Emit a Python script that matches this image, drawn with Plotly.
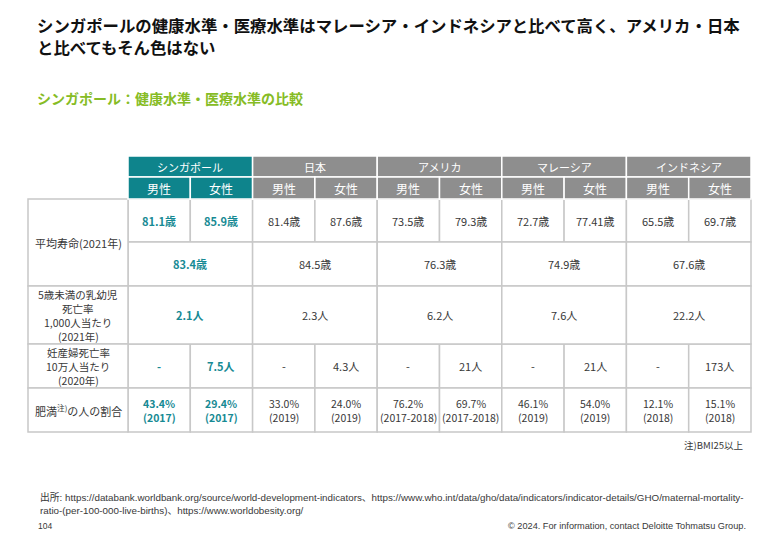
import plotly.graph_objects as go

# ---------------- data ----------------
countries = ["シンガポール", "日本", "アメリカ", "マレーシア", "インドネシア"]
genders = ["男性", "女性"]
row_labels = [
    ["平均寿命(2021年)"],
    ["5歳未満の乳幼児", "死亡率", "1,000人当たり", "(2021年)"],
    ["妊産婦死亡率", "10万人当たり", "(2020年)"],
    ["肥満<sup>注)</sup>の人の割合"],
]
life_male = ["81.1歳", "81.4歳", "73.5歳", "72.7歳", "65.5歳"]
life_female = ["85.9歳", "87.6歳", "79.3歳", "77.41歳", "69.7歳"]
life_total = ["83.4歳", "84.5歳", "76.3歳", "74.9歳", "67.6歳"]
infant_mortality = ["2.1人", "2.3人", "6.2人", "7.6人", "22.2人"]
maternal_male = ["-", "-", "-", "-", "-"]
maternal_female = ["7.5人", "4.3人", "21人", "21人", "173人"]
obesity_male = ["43.4%", "33.0%", "76.2%", "46.1%", "12.1%"]
obesity_male_year = ["(2017)", "(2019)", "(2017-2018)", "(2019)", "(2018)"]
obesity_female = ["29.4%", "24.0%", "69.7%", "54.0%", "15.1%"]
obesity_female_year = ["(2017)", "(2019)", "(2017-2018)", "(2019)", "(2018)"]

title_lines = [
    "シンガポールの健康水準・医療水準はマレーシア・インドネシアと比べて高く、アメリカ・日本",
    "と比べてもそん色はない",
]
subtitle = "シンガポール：健康水準・医療水準の比較"
note = "注)BMI25以上"
source_lines = [
    "出所: https://databank.worldbank.org/source/world-development-indicators、https://www.who.int/data/gho/data/indicators/indicator-details/GHO/maternal-mortality-",
    "ratio-(per-100-000-live-births)、https://www.worldobesity.org/",
]
page_no = "104"
copyright_text = "© 2024. For information, contact Deloitte Tohmatsu Group."

# ---------------- style / layout ----------------
W, H = 780, 540
FONT = "Noto Sans CJK JP"
TEAL = "#0e848c"
TEAL_TXT = "#178a94"
GRAY_HDR = "#8e8e8e"
GRID = "#c8c8c8"
TXT = "#383838"
GREEN = "#86bc25"

TABLE_LEFT = 28
LABEL_W = 100
SUB_W = 62.3
TOP = 156
HDR_H = [21, 22]
BODY_H = [43, 44, 58, 44, 44]  # life(a), life(b), infant, maternal, obesity
LINE_GAP = 14
LINE_GAP_OB = 14

x0 = TABLE_LEFT + LABEL_W
hdr_y = [TOP, TOP + HDR_H[0], TOP + HDR_H[0] + HDR_H[1]]
body_y = [hdr_y[2]]
for h in BODY_H:
    body_y.append(body_y[-1] + h)

shapes = []
annotations = []


def cell(xa, xb, ya, yb, fill, line_color, lw):
    shapes.append(dict(type="rect", xref="x", yref="y", x0=xa, x1=xb, y0=ya, y1=yb,
                       fillcolor=fill, line=dict(color=line_color, width=lw), layer="above"))


def text(x, y, s, size=11, color=TXT, bold=False, xanchor="center", family=FONT):
    annotations.append(dict(x=x, y=y, xref="x", yref="y", text=("<b>%s</b>" % s) if bold else s,
                            showarrow=False, xanchor=xanchor, yanchor="middle", align="center",
                            font=dict(family=family, size=size, color=color)))


def lines(x, ymid, items, gap, **kw):
    n = len(items)
    for i, s in enumerate(items):
        text(x, ymid + (i - (n - 1) / 2) * gap, s, **kw)


def sub_x(k):
    return x0 + k * SUB_W


# body cells
for ci in range(len(countries)):
    sg = ci == 0
    col = TEAL_TXT if sg else TXT
    for g in range(2):
        xa, xb = sub_x(2 * ci + g), sub_x(2 * ci + g + 1)
        xm = (xa + xb) / 2
        cell(xa, xb, body_y[0], body_y[1], "white", GRID, 1.5)
        text(xm, (body_y[0] + body_y[1]) / 2, (life_male if g == 0 else life_female)[ci], color=col, bold=sg)
        cell(xa, xb, body_y[3], body_y[4], "white", GRID, 1.5)
        text(xm, (body_y[3] + body_y[4]) / 2, (maternal_male if g == 0 else maternal_female)[ci], color=col, bold=sg)
        cell(xa, xb, body_y[4], body_y[5], "white", GRID, 1.5)
        v = (obesity_male if g == 0 else obesity_female)[ci]
        yr = (obesity_male_year if g == 0 else obesity_female_year)[ci]
        lines(xm, (body_y[4] + body_y[5]) / 2, [v, yr], LINE_GAP_OB, color=col, bold=sg, size=10.5)
    xa, xb = sub_x(2 * ci), sub_x(2 * ci + 2)
    xm = (xa + xb) / 2
    cell(xa, xb, body_y[1], body_y[2], "white", GRID, 1.5)
    text(xm, (body_y[1] + body_y[2]) / 2, life_total[ci], color=col, bold=sg)
    cell(xa, xb, body_y[2], body_y[3], "white", GRID, 1.5)
    text(xm, (body_y[2] + body_y[3]) / 2, infant_mortality[ci], color=col, bold=sg)

# label column
label_spans = [(0, 2), (2, 3), (3, 4), (4, 5)]
for lab, (a, b) in zip(row_labels, label_spans):
    cell(TABLE_LEFT, x0, body_y[a], body_y[b], "white", GRID, 1.5)
    lines((TABLE_LEFT + x0) / 2, (body_y[a] + body_y[b]) / 2, lab, LINE_GAP,
          size=11 if len(lab) == 1 else 10.5)

# headers
for ci, cname in enumerate(countries):
    fill = TEAL if ci == 0 else GRAY_HDR
    xa, xb = sub_x(2 * ci), sub_x(2 * ci + 2)
    cell(xa, xb, hdr_y[0], hdr_y[1], fill, "white", 1.5)
    text((xa + xb) / 2, (hdr_y[0] + hdr_y[1]) / 2, cname, size=11, color="white")
    for g, gname in enumerate(genders):
        xa, xb = sub_x(2 * ci + g), sub_x(2 * ci + g + 1)
        cell(xa, xb, hdr_y[1], hdr_y[2], fill, "white", 1.5)
        text((xa + xb) / 2, (hdr_y[1] + hdr_y[2]) / 2, gname, size=12, color="white")

# titles
text(35, 25, title_lines[0], size=16.4, color="#111111", bold=True, xanchor="left")
text(35, 47, title_lines[1], size=16.4, color="#111111", bold=True, xanchor="left")
text(35, 98, subtitle, size=14, color=GREEN, bold=True, xanchor="left")

# notes
annotations.append(dict(x=745, y=445, xref="x", yref="y", text=note, showarrow=False,
                        xanchor="right", yanchor="middle", font=dict(family=FONT, size=9.5, color=TXT)))
text(38, 497, source_lines[0], size=9.8, xanchor="left", family="Liberation Sans, " + FONT)
text(38, 510, source_lines[1], size=9.8, xanchor="left", family="Liberation Sans, " + FONT)
text(36, 526, page_no, size=8.5, xanchor="left", family="Liberation Sans")
annotations.append(dict(x=748, y=526, xref="x", yref="y", text=copyright_text, showarrow=False,
                        xanchor="right", yanchor="middle",
                        font=dict(family="Liberation Sans", size=9.2, color=TXT)))

fig = go.Figure()
fig.update_layout(
    width=W, height=H,
    margin=dict(l=0, r=0, t=0, b=0),
    paper_bgcolor="white", plot_bgcolor="white",
    xaxis=dict(range=[0, W], visible=False, fixedrange=True),
    yaxis=dict(range=[H, 0], visible=False, fixedrange=True),
    shapes=shapes, annotations=annotations, showlegend=False,
)
fig.write_html("out.html", config={"displayModeBar": False},
               post_script="document.body.style.margin='0';document.body.style.overflow='hidden';")
